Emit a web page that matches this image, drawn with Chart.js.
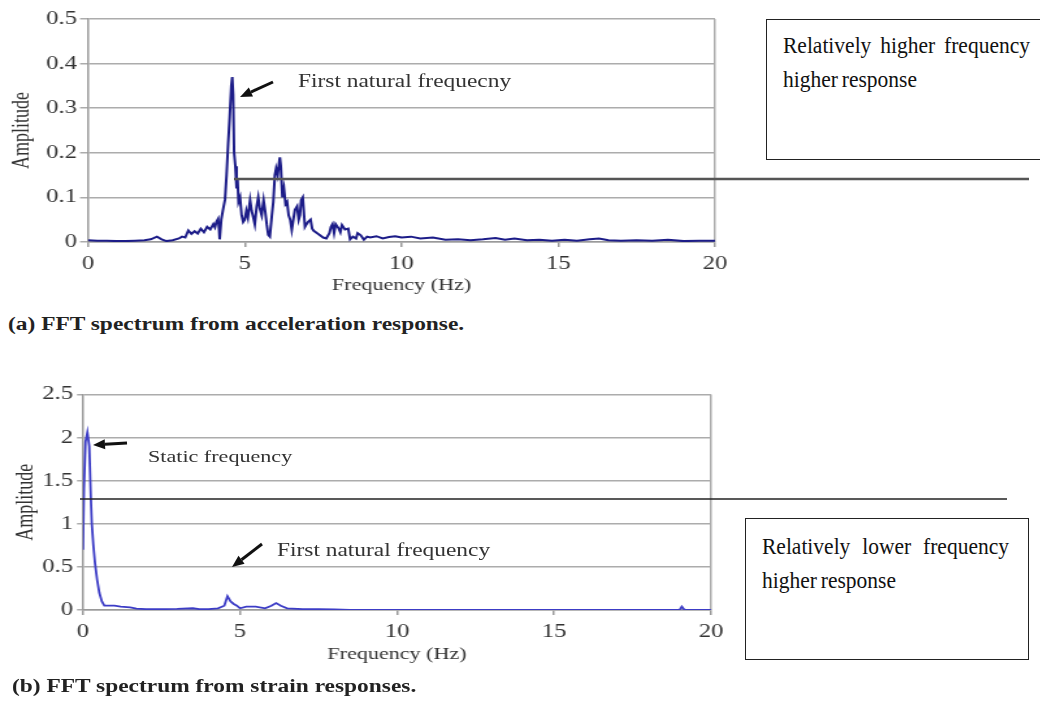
<!DOCTYPE html>
<html>
<head>
<meta charset="utf-8">
<script src="https://cdn.jsdelivr.net/npm/chart.js@4.4.1/dist/chart.umd.min.js"></script>
<style>
  html, body { margin: 0; padding: 0; background: #fff; }
  body { width: 1040px; height: 703px; position: relative; overflow: hidden;
         font-family: 'Liberation Serif', 'Times New Roman', serif; }
  /* the figure panels are set in a horizontally widened serif face */
  .wide { position: absolute; left: 0; transform: scaleX(1.3); transform-origin: 0 0; }
  .wide canvas { display: block; }
  .txt { position: absolute; white-space: nowrap; line-height: 1; color: #333;
         transform: scaleX(1.3); transform-origin: 0 0; }
  .caption { font-weight: bold; color: #222; }
  .box { position: absolute; border: 1.5px solid #222; box-sizing: border-box; }
  .boxtext { position: absolute; font-size: 21.5px; line-height: 31px; text-align: justify;
             word-spacing: -1.5px; color: #111; transform: scaleY(1.1); transform-origin: 0 0; }
  svg { position: absolute; left: 0; top: 0; }
</style>
</head>
<body>
<div class="wide" style="top:0px"><canvas id="accChart"></canvas></div>
<div class="wide" style="top:380px"><canvas id="strainChart"></canvas></div>

<div class="txt" style="left:298px;top:72px;font-size:18px">First natural frequecny</div>
<div class="txt" style="left:148px;top:448px;font-size:17px">Static frequency</div>
<div class="txt" style="left:277px;top:541px;font-size:18px">First natural frequency</div>
<div class="txt caption" style="left:8px;top:315px;font-size:18px">(a) FFT spectrum from acceleration response.</div>
<div class="txt caption" style="left:12px;top:677px;font-size:18px">(b) FFT spectrum from strain responses.</div>

<div class="box" style="left:766px;top:19px;width:400px;height:141px"></div>
<div class="boxtext" style="left:783px;top:29px;width:247px">Relatively higher frequency higher response</div>
<div class="box" style="left:745px;top:518px;width:284px;height:142px"></div>
<div class="boxtext" style="left:762px;top:530px;width:247px">Relatively lower frequency higher response</div>

<svg id="marks" width="1040" height="703" xmlns="http://www.w3.org/2000/svg">
  <line x1="234" y1="179" x2="1029" y2="179" stroke="#555" stroke-width="2.5"/>
  <line x1="80" y1="499" x2="1007" y2="499" stroke="#222" stroke-width="1.5"/>
</svg>

<script>
// Acceleration FFT spectrum (Hz, amplitude)
const accFreq = [
  0, 0.3, 0.6, 0.9, 1.2, 1.5, 1.8, 2.0, 2.2, 2.35,
  2.5, 2.7, 2.9, 3.0, 3.1, 3.2, 3.3, 3.4, 3.5, 3.6,
  3.7, 3.8, 3.9, 4.0, 4.05, 4.1, 4.15, 4.18, 4.2, 4.25,
  4.3, 4.37, 4.42, 4.47, 4.52, 4.57, 4.6, 4.63, 4.66, 4.7,
  4.74, 4.77, 4.8, 4.85, 4.9, 4.95, 5.0, 5.05, 5.1, 5.17,
  5.22, 5.27, 5.32, 5.38, 5.43, 5.48, 5.54, 5.6, 5.65, 5.7,
  5.75, 5.8, 5.86, 5.91, 5.96, 6.0, 6.05, 6.1, 6.12, 6.15,
  6.2, 6.25, 6.3, 6.35, 6.4, 6.45, 6.5, 6.55, 6.6, 6.67,
  6.72, 6.76, 6.8, 6.85, 6.92, 6.97, 7.02, 7.1, 7.15, 7.2,
  7.3, 7.4, 7.5, 7.6, 7.7, 7.75, 7.8, 7.85, 7.9, 7.95,
  8.0, 8.05, 8.1, 8.2, 8.3, 8.36, 8.45, 8.55, 8.6, 8.7,
  8.8, 8.9, 9.0, 9.2, 9.4, 9.6, 9.8, 10.0, 10.3, 10.6,
  11.0, 11.4, 11.8, 12.2, 12.6, 13.0, 13.3, 13.6, 14.0, 14.4,
  14.8, 15.2, 15.6, 16.0, 16.3, 16.6, 17.0, 17.5, 18.0, 18.5,
  19.0, 19.5, 20
];
const accAmp = [
  0.004, 0.003, 0.003, 0.002, 0.002, 0.003, 0.004, 0.006, 0.012, 0.006,
  0.002, 0.004, 0.008, 0.012, 0.010, 0.026, 0.018, 0.024, 0.019, 0.030,
  0.022, 0.034, 0.028, 0.040, 0.033, 0.046, 0.052, 0.030, 0.006, 0.050,
  0.070, 0.095, 0.150, 0.220, 0.280, 0.350, 0.370, 0.330, 0.200, 0.170,
  0.120, 0.140, 0.090, 0.100, 0.060, 0.045, 0.050, 0.070, 0.055, 0.094,
  0.070, 0.056, 0.040, 0.080, 0.100, 0.075, 0.060, 0.094, 0.070, 0.040,
  0.016, 0.012, 0.056, 0.090, 0.150, 0.165, 0.150, 0.180, 0.190, 0.170,
  0.100, 0.120, 0.085, 0.090, 0.060, 0.050, 0.027, 0.050, 0.072, 0.080,
  0.050, 0.060, 0.094, 0.100, 0.034, 0.040, 0.045, 0.050, 0.030, 0.025,
  0.020, 0.015, 0.010, 0.008, 0.020, 0.034, 0.040, 0.020, 0.040, 0.035,
  0.030, 0.022, 0.038, 0.028, 0.030, 0.006, 0.012, 0.008, 0.020, 0.015,
  0.005, 0.012, 0.010, 0.013, 0.008, 0.011, 0.013, 0.010, 0.012, 0.008,
  0.010, 0.005, 0.006, 0.004, 0.006, 0.009, 0.005, 0.008, 0.004, 0.005,
  0.003, 0.005, 0.003, 0.006, 0.008, 0.004, 0.003, 0.004, 0.003, 0.005,
  0.002, 0.003, 0.003
];

// Strain FFT spectrum (Hz, amplitude)
const strainFreq = [
  0, 0.03, 0.08, 0.14, 0.2, 0.25, 0.28, 0.33, 0.38, 0.45,
  0.52, 0.6, 0.68, 0.8, 1.0, 1.2, 1.5, 1.7, 2.0, 2.5,
  3.0, 3.5, 3.7, 4.0, 4.3, 4.5, 4.6, 4.7, 4.8, 4.9,
  5.0, 5.2, 5.5, 5.8, 6.0, 6.15, 6.3, 6.5, 7.0, 7.5,
  8.0, 8.5, 12, 16, 19.0, 19.07, 19.15, 20
];
const strainAmp = [
  0.70, 1.40, 1.95, 2.06, 1.90, 1.30, 1.00, 0.75, 0.55, 0.35,
  0.20, 0.10, 0.05, 0.05, 0.05, 0.04, 0.03, 0.015, 0.010, 0.010,
  0.012, 0.020, 0.010, 0.010, 0.020, 0.050, 0.160, 0.100, 0.070, 0.050,
  0.020, 0.040, 0.040, 0.020, 0.050, 0.080, 0.050, 0.020, 0.010, 0.010,
  0.008, 0.002, 0.002, 0.002, 0.002, 0.040, 0.002, 0.002
];

const xTicksStep = 5;
const accYMax = 0.5, accYStep = 0.1;
const strainYMax = 2.5, strainYStep = 0.5;

const STRETCH = 1.3;
const SERIF = "'Liberation Serif', 'Times New Roman', serif";
const GRID = '#acacac', AXIS = '#9a9a9a', TEXT = '#333333';

function buildChart(id, cfg) {
  const canvas = document.getElementById(id);
  const w = Math.round(cfg.canvasWidth / STRETCH);
  canvas.width = w; canvas.height = cfg.canvasHeight;
  canvas.style.width = w + 'px'; canvas.style.height = cfg.canvasHeight + 'px';
  const left = cfg.plotLeft / STRETCH, right = cfg.plotRight / STRETCH;
  return new Chart(canvas, {
    type: 'line',
    data: {
      datasets: [{
        data: cfg.freq.map((f, i) => ({ x: f, y: cfg.amp[i] })),
        borderColor: cfg.color, borderWidth: cfg.lineWidth,
        pointRadius: 0, tension: 0, fill: false
      }]
    },
    options: {
      responsive: false, animation: false, devicePixelRatio: 1,
      layout: { padding: { top: cfg.plotTop, right: w - right, left: 0, bottom: 0 } },
      plugins: { legend: { display: false }, tooltip: { enabled: false } },
      scales: {
        x: {
          type: 'linear', min: 0, max: 20,
          afterFit: s => { s.height = cfg.canvasHeight - cfg.plotBottom; },
          ticks: { stepSize: xTicksStep, maxRotation: 0, autoSkip: false, color: TEXT,
                   font: { family: SERIF, size: 19 }, padding: 5.6 },
          grid: { color: c => (c.tick && c.tick.value === 20) ? GRID : 'rgba(0,0,0,0)',
                  tickColor: AXIS, tickLength: 5, lineWidth: 1.5 },
          border: { color: AXIS, width: 1.5 },
          title: { display: true, text: 'Frequency (Hz)', color: TEXT,
                   font: { family: SERIF, size: 17 }, padding: { top: 0, bottom: cfg.xTitlePad } }
        },
        y: {
          min: 0, max: cfg.yMax,
          afterFit: s => { s.width = left; },
          ticks: { stepSize: cfg.yStep, color: TEXT, font: { family: SERIF, size: 19 },
                   padding: cfg.yTickPad / STRETCH,
                   callback: v => String(Math.round(v * 10) / 10) },
          grid: { color: GRID, tickColor: GRID, tickLength: cfg.yTickLen / STRETCH, lineWidth: 1.5 },
          border: { color: AXIS, width: 1.5 },
          title: { display: true, text: 'Amplitude', color: TEXT,
                   font: { family: SERIF, size: 18 }, padding: { top: cfg.yTitlePad, bottom: 0 } }
        }
      }
    }
  });
}

buildChart('accChart', {
  freq: accFreq, amp: accAmp, color: '#1c1c88', lineWidth: 2,
  canvasWidth: 741, canvasHeight: 300,
  plotLeft: 88, plotRight: 715, plotTop: 19, plotBottom: 242,
  yMax: accYMax, yStep: accYStep,
  yTickPad: 3, yTickLen: 8, yTitlePad: 6.1, xTitlePad: 3.8
});

buildChart('strainChart', {
  freq: strainFreq, amp: strainAmp, color: '#3c3cc6', lineWidth: 1.8,
  canvasWidth: 741, canvasHeight: 300,
  plotLeft: 83, plotRight: 711, plotTop: 14, plotBottom: 230,
  yMax: strainYMax, yStep: strainYStep,
  yTickPad: 4, yTickLen: 6, yTitlePad: 9.2, xTitlePad: 14.8
});

// pointer arrows beside the annotated peaks
const svg = document.getElementById('marks');
function arrow(tx, ty, hx, hy) {
  const dx = tx - hx, dy = ty - hy, len = Math.hypot(dx, dy);
  const ux = dx / len, uy = dy / len, nx = -uy, ny = ux;
  const headLen = 12, half = 5;
  const bx = hx + ux * headLen, by = hy + uy * headLen;
  const ns = 'http://www.w3.org/2000/svg';
  const line = document.createElementNS(ns, 'line');
  line.setAttribute('x1', tx); line.setAttribute('y1', ty);
  line.setAttribute('x2', bx); line.setAttribute('y2', by);
  line.setAttribute('stroke', '#111'); line.setAttribute('stroke-width', '3');
  svg.appendChild(line);
  const head = document.createElementNS(ns, 'polygon');
  head.setAttribute('points',
    `${hx},${hy} ${bx + nx * half},${by + ny * half} ${bx - nx * half},${by - ny * half}`);
  head.setAttribute('fill', '#111');
  svg.appendChild(head);
}
arrow(273, 82, 240, 97);
arrow(127, 443, 93, 445);
arrow(262, 544, 232, 567);
</script>
</body>
</html>
